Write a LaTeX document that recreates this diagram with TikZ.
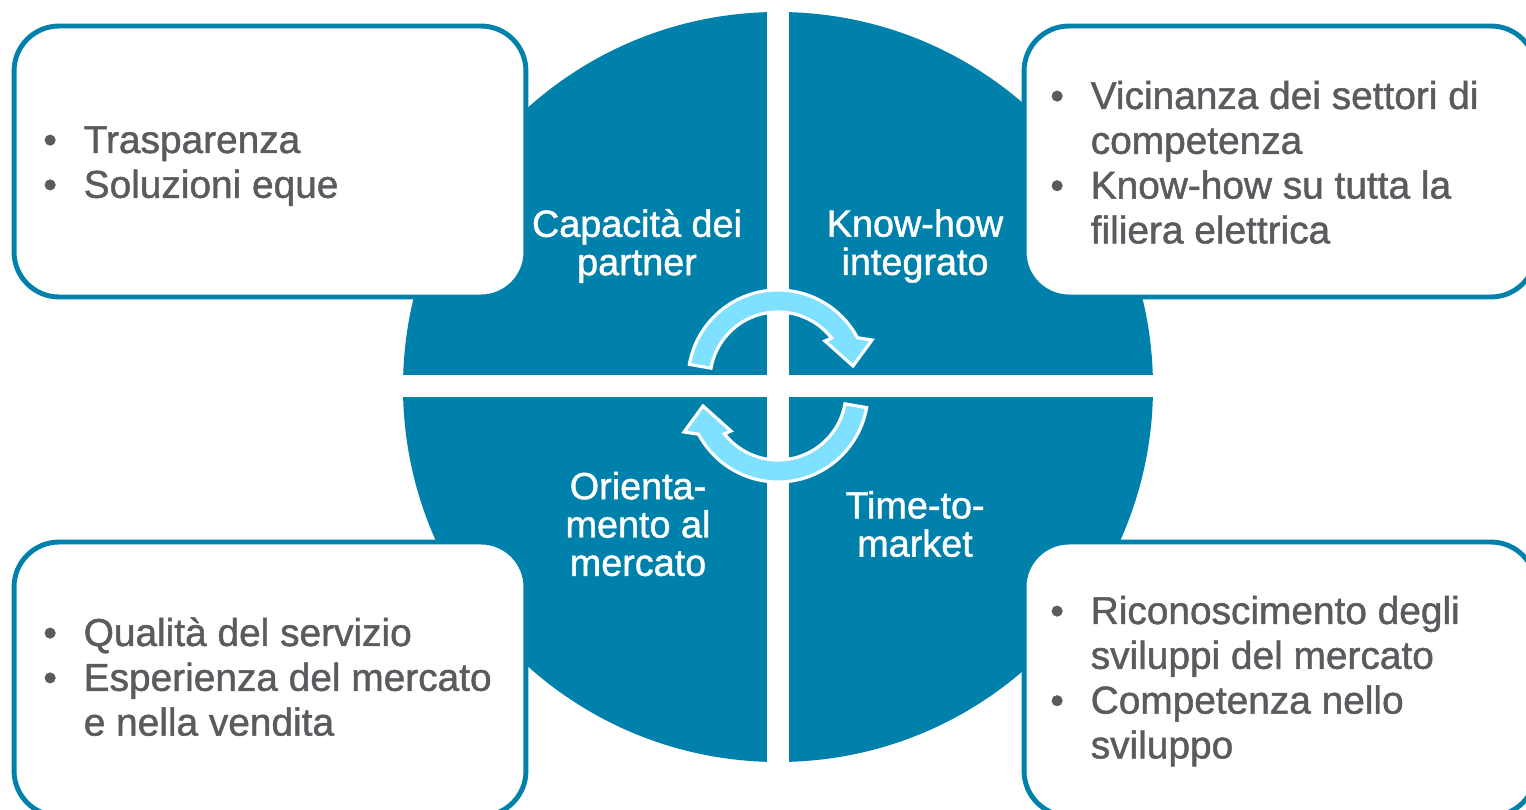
\documentclass[tikz,border=0pt]{standalone}
\usepackage{fontspec}
\setmainfont{Liberation Sans}[FakeBold=1.2]
\usetikzlibrary{calc}
\definecolor{cblue}{RGB}{0,129,171}
\definecolor{ccyan}{RGB}{128,224,255}
\definecolor{ctext}{RGB}{90,90,95}
\newcommand\bul{\makebox[23pt][l]{\textbullet}}
\begin{document}
\begin{tikzpicture}[x=0.02cm,y=-0.02cm,
  qbox/.style={draw=cblue, line width=2.8pt, fill=white, rounded corners=0.9cm, inner sep=0},
  qlabel/.style={text=white, align=center, font=\fontsize{21.5}{21.8}\selectfont, inner sep=0},
  bullets/.style={text=ctext, anchor=base west, inner sep=0, font=\fontsize{22.1}{25.5}\selectfont},
  arrowband/.style={fill=ccyan, draw=white, line width=1.8pt, line join=miter},
  cycarrow/.pic={\path[arrowband] (-88.63,-15.63) arc[start angle=190,end angle=332,radius=90]
     -- (94,-40) -- (75,-14) -- (47,-39) -- (53.58,-41.87)
     arc[start angle=322,end angle=190,radius=68] -- cycle;}]
\useasboundingbox (0,0) rectangle (1526,810);
\clip (0,0) rectangle (1526,810);
% central circle split in four
\fill[cblue] (778,387) circle[radius=375];
\fill[white] (767,0) rectangle (789,810);
\fill[white] (380,375) rectangle (1180,397);
% boxes
\node[qbox, minimum width=10.24cm, minimum height=5.42cm] (tl) at (270,161.5) {};
\node[qbox, minimum width=10.24cm, minimum height=5.42cm] (tr) at (1280,161.5) {};
\node[qbox, minimum width=10.24cm, minimum height=5.48cm] (bl) at (270,679) {};
\node[qbox, minimum width=10.24cm, minimum height=5.48cm] (br) at (1280,679) {};
% cycle arrows
\pic (a1) at (778,380) {cycarrow};
\pic[rotate=180] (a2) at (778,392) {cycarrow};
% quadrant labels
\node[qlabel] (l1) at (637,246) {Capacità dei\\partner};
\node[qlabel] (l2) at (915,246) {Know-how\\integrato};
\node[qlabel] (l3) at (638,524) {Orienta-\\mento al\\mercato};
\node[qlabel] (l4) at (915,524) {Time-to-\\market};
% box texts
\node[bullets] (t1) at (43,153) {\begin{tabular}[t]{@{}l@{}}\bul Trasparenza\\ \bul Soluzioni eque\end{tabular}};
\node[bullets] (t2) at (1050,109) {\begin{tabular}[t]{@{}l@{}}\bul Vicinanza dei settori di\\ \hspace*{23pt}competenza\\ \bul Know-how su tutta la\\ \hspace*{23pt}filiera elettrica\end{tabular}};
\node[bullets] (t3) at (43,646) {\begin{tabular}[t]{@{}l@{}}\bul Qualità del servizio\\ \bul Esperienza del mercato\\ \hspace*{23pt}e nella vendita\end{tabular}};
\node[bullets] (t4) at (1050,624) {\begin{tabular}[t]{@{}l@{}}\bul Riconoscimento degli\\ \hspace*{23pt}sviluppi del mercato\\ \bul Competenza nello\\ \hspace*{23pt}sviluppo\end{tabular}};
\end{tikzpicture}
\end{document}
